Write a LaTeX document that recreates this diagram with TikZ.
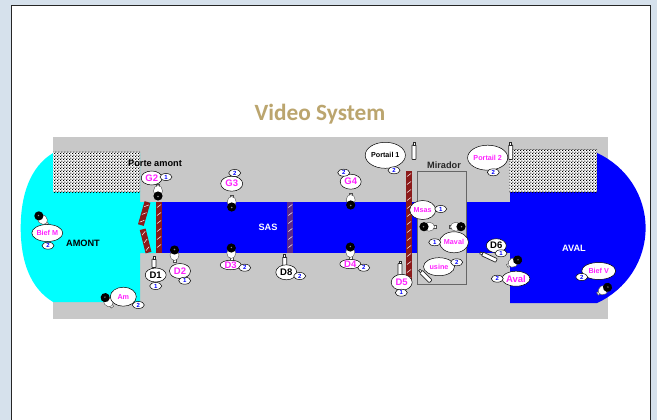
\documentclass[tikz,border=0pt]{standalone}
\usepackage{fontspec}
\setmainfont{Liberation Sans}
\newfontfamily\titlefont{Carlito}
\usepackage{xcolor}
\usetikzlibrary{patterns, shapes.geometric}
\definecolor{frameblue}{HTML}{D6E1EC}
\definecolor{wallgray}{HTML}{C8C8C8}
\definecolor{gatered}{HTML}{8B1A1A}
\definecolor{gatepurple}{HTML}{5B2A8C}
\definecolor{titletan}{HTML}{BBA56E}
\definecolor{labelpink}{HTML}{FF22FF}
\definecolor{watercyan}{HTML}{00FFFF}
\definecolor{waterblue}{HTML}{0000FF}
\pgfdeclarepatternformonly{bankdots}{\pgfqpoint{0pt}{0pt}}{\pgfqpoint{3.2pt}{3.2pt}}{\pgfqpoint{3.2pt}{3.2pt}}{
  \pgfpathrectangle{\pgfqpoint{0pt}{0pt}}{\pgfqpoint{1.4pt}{1.4pt}}
  \pgfpathrectangle{\pgfqpoint{1.6pt}{1.6pt}}{\pgfqpoint{1.4pt}{1.4pt}}
  \pgfusepath{fill}
}

\begin{document}
\begin{tikzpicture}[
  x=1pt, y=-1pt,
  every node/.style={align=center},
  bubble/.style 2 args={ellipse, draw, line width=.5pt, fill=white, inner sep=0pt,
                   minimum width=#1pt, minimum height=#2pt,
                   text=labelpink, font=\bfseries\fontsize{9.5}{10}\selectfont},
  tiny/.style    ={font=\bfseries\fontsize{7.2}{8}\selectfont},
  num/.style     ={ellipse, draw, line width=.5pt, fill=white, inner sep=0pt,
                   minimum width=12pt, minimum height=7pt,
                   text=waterblue, font=\bfseries\fontsize{6}{6}\selectfont},
  tag/.style     ={font=\bfseries\fontsize{9.2}{10}\selectfont},
  hatch/.style   ={draw=none, preaction={fill=white}, pattern=bankdots},
  gate/.pic      ={
    \fill[pic actions] (-3,0) rectangle (3,#1);
    \foreach \s in {4,12,...,#1}
      \draw[white, line width=.5pt] (-2,\s+1.5) -- (2,\s-1.5);
  },
  cam/.pic       ={
    \draw[black!70, line width=.5pt, fill=white] (-1.5,-9) rectangle (1.5,-4);
    \draw[black!70, line width=.4pt, fill=white] (0,-2) ellipse (4.5 and 5.5);
    \fill[black] (0,3) circle (4.6);
    \fill[black!45] (0,3.5) circle (.8);
  },
  sensor/.pic    ={
    \draw[black!85, line width=.7pt, fill=white, rounded corners=.6pt] (-2,-#1/2+2.5) rectangle (2,#1/2);
    \draw[black!85, line width=.6pt, fill=white] (-1,-#1/2) rectangle (1,-#1/2+2.5);
  },
]

\useasboundingbox (0,0) rectangle (657,420);

% Frame
\fill[frameblue] (0,0) rectangle (657,420);
\draw[fill=white, line width=1pt, draw=black!85] (11.5,5.5) rectangle (650.5,425);

% Title
\node[text=titletan, font=\titlefont\bfseries\fontsize{23.3}{26}\selectfont] (title) at (320,114) {Video System};

% Walls
\fill[wallgray] (53,137) rectangle (608,318.5);

% Water
\fill[watercyan] (53,153) .. controls (30,167) and (20.7,195) .. (20.7,228)
  .. controls (20.7,261) and (30,288) .. (53,302)
  -- (140,302) -- (140,253) -- (157,253) -- (157,202) -- (140,202) -- (140,153) -- cycle;
\fill[waterblue] (160,202) rectangle (510,253);
\fill[waterblue] (597,153) .. controls (626.5,166.4) and (645.6,195.6) .. (645.6,228)
  .. controls (645.6,260.4) and (626.5,289.6) .. (597,303)
  -- (510,303) -- (510,153) -- cycle;

% Hatched banks
\path[hatch] (53,152) rectangle (140,192);
\path[hatch] (509,150) rectangle (597,192);

% Mirador
\draw[draw=black!60, fill=wallgray, line width=.8pt] (417,171) rectangle (466,284);
\node[tag, text=black!85] (mirador) at (444,165) {Mirador};

% Gates
\pic[fill=gatered, rotate=-16] (gateA) at (147.5,202) {gate=24};
\pic[fill=gatered, rotate=14]  (gateB) at (142.7,229.3) {gate=24};
\pic[fill=gatered]             (gateC) at (159,202) {gate=51};
\pic[fill=gatepurple]          (gateD) at (290.3,202) {gate=51};
\pic[fill=gatered]             (gateE) at (409,171) {gate=110};

% Area labels
\node[tag] (amont) at (83,243) {AMONT};
\node[tag, text=white] (sas)  at (268,227) {SAS};
\node[tag, text=white] (aval) at (574,248) {AVAL};
\node[tag] (porte) at (155,163) {Porte amont};

% Cameras
\pic[rotate=0]   (camG2)  at (158,193)   {cam};
\pic[rotate=180] (camD2)  at (174.5,253) {cam};
\pic[rotate=225] (camBM)  at (41,218)    {cam};
\pic[rotate=217] (camAm)  at (107,300)   {cam};
\pic[rotate=0]   (camG3)  at (231.7,204) {cam};
\pic[rotate=180] (camD3)  at (231.3,251) {cam};
\pic[rotate=0]   (camG4)  at (350.7,202) {cam};
\pic[rotate=180] (camD4)  at (350.3,250) {cam};
\pic[rotate=-90] (camML)  at (427,226.7) {cam};
\pic[rotate=90]  (camMR)  at (458,226.7) {cam};
\pic[rotate=120] (camAv)  at (515,261.5) {cam};
\pic[rotate=123] (camBV)  at (605,289)   {cam};

% Sensors
\pic (senD1)  at (154,262)   {sensor=11};
\pic (senD8)  at (284.7,260) {sensor=11};
\pic (senD5)  at (400,268.5) {sensor=15};
\pic (senP1)  at (414,151)   {sensor=17};
\pic (senP2)  at (510.7,151) {sensor=17};
\pic[rotate=45] (senUs) at (425,275.7)   {sensor=16};
\pic[rotate=65] (senD6) at (488.3,256.7) {sensor=18};

% Left bubbles
\node[bubble={31}{17}, tiny] (biefM) at (47.3,233) {Bief M};
\node[num] (biefMn) at (48,245.7) {2};
\node[bubble={26}{19}, tiny] (am) at (123.3,296.7) {Am};
\node[num] (amn) at (138.3,305) {2};
\node[bubble={21}{14}] (g2) at (151.7,178) {G2};
\node[num] (g2n) at (166,177) {1};
\node[bubble={21}{14}, text=black] (d1) at (155.7,275) {D1};
\node[num] (d1n) at (155.7,286) {1};
\node[bubble={21}{15}] (d2) at (180,271) {D2};
\node[num] (d2n) at (184.7,280.7) {1};

% Lock bubbles
\node[bubble={22}{15}] (g3) at (231.7,183.7) {G3};
\node[num] (g3n) at (234.7,173) {2};
\node[bubble={21}{9}] (d3) at (230.7,265) {D3};
\node[num] (d3n) at (244.7,267.7) {2};
\node[bubble={21}{15}, text=black] (d8) at (286.3,272.3) {D8};
\node[num] (d8n) at (299.7,276) {2};
\node[bubble={21}{15}] (g4) at (350.7,181.7) {G4};
\node[num] (g4n) at (343.7,172.7) {2};
\node[bubble={21}{9}] (d4) at (350.3,264) {D4};
\node[num] (d4n) at (363.7,267.7) {2};
\node[bubble={37}{26}, tiny, text=black] (portail1) at (385.3,155.3) {Portail 1};
\node[num] (portail1n) at (394,170.3) {2};
\node[bubble={21}{16}] (d5) at (401.7,282.3) {D5};
\node[num] (d5n) at (401.3,292.7) {1};

% Mirador bubbles
\node[bubble={26}{19}, tiny] (msas) at (422.7,210) {Msas};
\node[num] (msasn) at (440.7,209) {1};
\node[bubble={29}{21}, tiny] (maval) at (454,242.3) {Maval};
\node[num] (mavaln) at (434.7,242.3) {1};
\node[bubble={31}{18}, tiny] (usine) at (439,266.7) {usine};
\node[num] (usinen) at (456.7,262.3) {2};

% Right bubbles
\node[bubble={38}{25}, tiny] (portail2) at (487.7,157.7) {Portail 2};
\node[num] (portail2n) at (493.3,172.3) {2};
\node[bubble={20}{14}, text=black] (d6) at (496.3,245.7) {D6};
\node[num] (d6n) at (501,253.3) {1};
\node[bubble={27}{15}] (avalb) at (516,278.7) {Aval};
\node[num] (avalbn) at (497.3,278.7) {2};
\node[bubble={34}{17}, tiny] (biefV) at (598.7,271) {Bief V};
\node[num] (biefVn) at (581.7,277) {2};

\end{tikzpicture}
\end{document}
